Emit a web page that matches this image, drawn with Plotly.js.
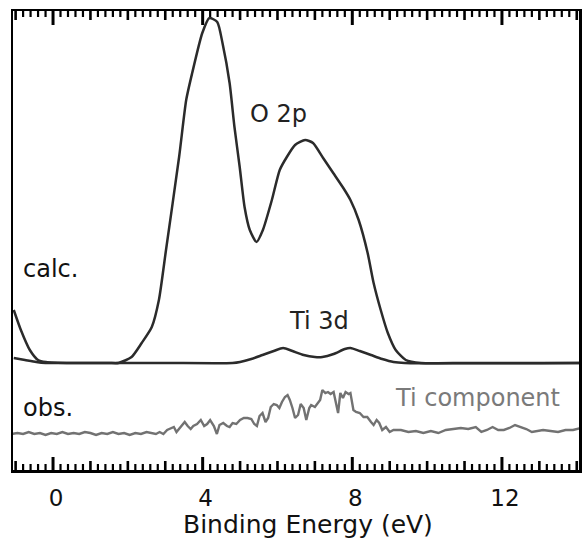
<!DOCTYPE html>
<html>
<head>
<meta charset="utf-8">
<script src="https://cdn.plot.ly/plotly-3.0.1.min.js"></script>
<style>
html,body{margin:0;padding:0;background:#fff;}
#chart{width:582px;height:541px;}
</style>
</head>
<body>
<div id="chart"></div>
<script>
// Binding energy (eV) and displayed intensity (arbitrary units, offset spectra)
var o2pEnergy = [-1.05,-0.86,-0.62,-0.40,-0.19,0.5,1.0,1.5,1.75,2.10,2.37,2.64,2.83,3.02,3.37,3.56,3.72,3.99,4.18,4.39,4.53,4.72,4.85,4.99,5.12,5.26,5.44,5.61,5.85,6.06,6.25,6.47,6.74,6.95,7.22,7.49,7.76,7.95,8.17,8.41,8.57,8.76,8.95,9.16,9.43,9.84,11.0,12.5,14.1];
var o2pIntensity = [160,140,120,110,108,107,107,107,107,113,127,143,170,220,313,370,397,437,452,448,427,387,343,303,263,240,228,240,270,300,313,325,330,327,312,297,282,270,250,217,187,160,137,120,110,107,107,107,107];

var ti3dEnergy = [-1.05,-0.75,-0.45,-0.2,1.0,3.0,4.8,5.0,5.3,5.6,5.9,6.15,6.4,6.7,7.0,7.2,7.5,7.8,7.95,8.2,8.5,8.8,9.1,9.4,14.1];
var ti3dIntensity = [112,110,108,107,107,107,107,108,111,115,119,122,119,115,113,113,116,121,122,119,115,111,108,107,107];

var obsEnergy = [-1.1,-0.95,-0.8,-0.65,-0.5,-0.35,-0.2,-0.05,0.1,0.25,0.4,0.55,0.7,0.85,1.0,1.15,1.3,1.45,1.6,1.75,1.9,2.05,2.2,2.35,2.5,2.65,
 2.75,2.85,2.95,3.05,3.15,3.23,3.3,3.37,3.45,3.52,3.6,3.68,3.75,3.85,3.95,4.04,4.12,4.2,4.3,4.38,4.45,4.55,4.65,4.72,4.8,4.9,5.0,5.1,5.2,5.3,5.38,5.45,5.52,5.6,5.68,5.75,5.82,5.9,5.98,6.05,6.12,6.2,6.27,6.33,6.4,6.47,6.55,6.62,6.7,6.77,6.85,6.9,7.0,7.07,7.14,7.2,7.28,7.35,7.42,7.5,7.57,7.62,7.68,7.75,7.82,7.9,7.95,8.03,8.1,8.2,8.3,8.4,8.5,8.57,8.65,8.72,8.8,8.9,9.0,9.1,
 9.3,9.5,9.7,9.9,10.1,10.3,10.5,10.7,10.9,11.1,11.3,11.45,11.6,11.75,11.9,12.05,12.2,12.35,12.5,12.65,12.8,12.95,13.1,13.3,13.5,13.7,13.9,14.1];
var obsIntensity = [36,37,36,38,36,37,35,37,36,38,36,37,36,38,37,35,37,36,38,36,37,35,37,36,38,37,
 36,38,36,40,42,43,38,41,44,48,44,41,44,46,50,44,46,50,44,36,45,47,44,43,47,46,50,52,52,51,46,44,54,57,48,52,63,66,65,62,68,73,75,70,62,52,55,66,62,50,62,65,63,67,70,80,77,78,76,78,67,57,77,72,78,76,77,60,58,57,53,53,48,45,50,47,40,43,38,40,
 40,38,39,37,39,37,40,41,42,41,43,38,40,43,40,40,42,45,43,41,38,39,40,39,38,40,40,42];

// tick labels on the energy axis
var tickValues = [0, 4, 8, 12];
var tickLabels = ["0", "4", "8", "12"];

var labelCalc = "calc.";
var labelObs = "obs.";
var labelO2p = "O 2p";
var labelTi3d = "Ti 3d";
var labelTiComp = "Ti component";
var xTitle = "Binding Energy (eV)";

var darkLine = "#2b2b2b";
var grayLine = "#727272";
var FONT = "DejaVu Sans, Arial, sans-serif";

var yTop = 459;   // y-axis range top (1 unit = 1 px of plot height)

// axis tick marks inside the frame (top and bottom): major every 4 eV, medium every 1 eV, minor every 0.2 eV
var shapes = [];
for (var k = -5; k <= 70; k++) {
  var ev = k / 5, lb, lt, w;
  if (k % 20 === 0) { lb = 13; lt = 14; w = 3; }
  else if (k % 5 === 0) { lb = 9; lt = 9; w = 2.6; }
  else { lb = 6; lt = 6; w = 2.2; }
  shapes.push({type: "line", xref: "x", yref: "y", x0: ev, x1: ev, y0: 0, y1: lb,
    line: {color: "#000", width: w}, layer: "above"});
  shapes.push({type: "line", xref: "x", yref: "y", x0: ev, x1: ev, y0: yTop, y1: yTop - lt,
    line: {color: "#000", width: w}, layer: "above"});
}

var traces = [
  {x: obsEnergy, y: obsIntensity, type: "scatter", mode: "lines",
   line: {color: grayLine, width: 2.4}, hoverinfo: "skip", showlegend: false},
  {x: ti3dEnergy, y: ti3dIntensity, type: "scatter", mode: "lines",
   line: {color: darkLine, width: 2.5, shape: "spline", smoothing: 0.6}, hoverinfo: "skip", showlegend: false},
  {x: o2pEnergy, y: o2pIntensity, type: "scatter", mode: "lines",
   line: {color: darkLine, width: 2.5, shape: "spline", smoothing: 0.6}, hoverinfo: "skip", showlegend: false}
];

var xr = [-1.07, 14.06];
var layout = {
  width: 582, height: 541,
  margin: {l: 13, r: 3, t: 11, b: 71, pad: 0},
  paper_bgcolor: "#fff", plot_bgcolor: "#fff",
  font: {family: FONT, color: "#111"},
  xaxis: {
    range: xr, tickmode: "array", tickvals: tickValues, ticktext: tickLabels,
    ticks: "", showline: true, linewidth: 2.5, linecolor: "#000", mirror: true,
    showgrid: false, zeroline: false,
    tickfont: {family: FONT, size: 23, color: "#111"},
    ticklabelstandoff: 6, ticklabelshift: 3
  },
  yaxis: {
    range: [0, yTop], showline: true, linewidth: 2.5, linecolor: "#000", mirror: true,
    ticks: "", showticklabels: false, showgrid: false, zeroline: false
  },
  shapes: shapes,
  annotations: [
    {text: xTitle, x: 308, y: 524, xref: "paper", yref: "paper", xanchor: "center", yanchor: "middle", showarrow: false, font: {family: FONT, size: 25, color: "#111"}},
    {text: labelCalc, x: -0.86, y: 201, xref: "x", yref: "y", xanchor: "left", yanchor: "middle", showarrow: false, font: {family: FONT, size: 24, color: "#111"}},
    {text: labelObs, x: -0.86, y: 62.5, xref: "x", yref: "y", xanchor: "left", yanchor: "middle", showarrow: false, font: {family: FONT, size: 24, color: "#111"}},
    {text: labelO2p, x: 5.21, y: 356, xref: "x", yref: "y", xanchor: "left", yanchor: "middle", showarrow: false, font: {family: FONT, size: 24, color: "#222"}},
    {text: labelTi3d, x: 6.26, y: 149, xref: "x", yref: "y", xanchor: "left", yanchor: "middle", showarrow: false, font: {family: FONT, size: 24, color: "#222"}},
    {text: labelTiComp, x: 9.09, y: 72, xref: "x", yref: "y", xanchor: "left", yanchor: "middle", showarrow: false, font: {family: FONT, size: 24, color: "#7a7a7a"}}
  ]
};
// title annotation: pixel position -> paper fractions of the plot area
(function () {
  var t = layout.annotations[0];
  var plotW = layout.width - layout.margin.l - layout.margin.r;
  var plotH = layout.height - layout.margin.t - layout.margin.b;
  t.x = (t.x - layout.margin.l) / plotW;
  t.y = (layout.height - layout.margin.b - t.y) / plotH;
})();

Plotly.newPlot("chart", traces, layout, {displayModeBar: false, staticPlot: true});
</script>
</body>
</html>
